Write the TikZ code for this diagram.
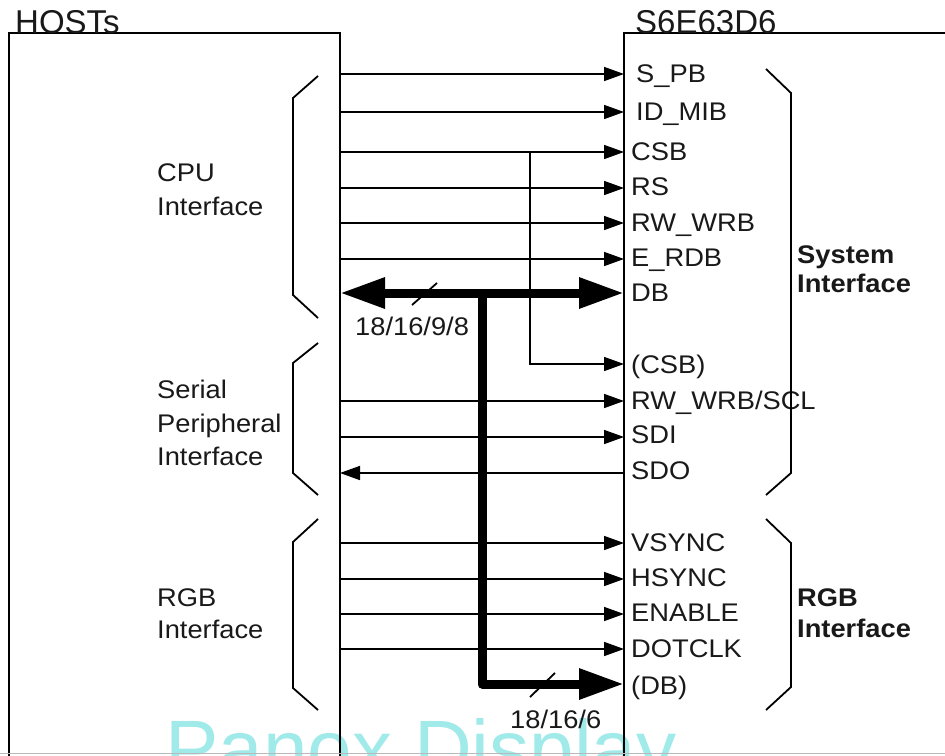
\documentclass[tikz,border=0pt]{standalone}
\usepackage{fontspec}
\setmainfont{Liberation Sans}[FakeStretch=1.07]
\newfontfamily\titlefont{Liberation Sans}
\usetikzlibrary{arrows.meta}
\definecolor{txt}{RGB}{25,25,25}
\definecolor{wm}{RGB}{160,234,234}
\begin{document}
\begin{tikzpicture}[x=1pt,y=-1pt,
  sig/.style={line width=1.6pt,-{Triangle[length=20pt,width=14pt]}},
  sigl/.style={line width=1.6pt,{Triangle[length=20pt,width=14pt]}-},
  edge/.style={line width=1.6pt},
  bus/.style={line width=9pt,line join=round},
  bracket/.style={line width=1.8pt},
  slash/.style={line width=1.8pt},
  lbl/.style={anchor=base west,inner sep=0pt,text=txt,font=\fontsize{25.5}{30}\selectfont},
  blbl/.style={lbl,font=\fontsize{25.5}{30}\selectfont\bfseries},
  ttl/.style={anchor=base west,inner sep=0pt,text=txt,font=\titlefont\fontsize{33}{36}\selectfont},
  wmark/.style={anchor=base west,inner sep=0pt,text=wm,font=\titlefont\fontsize{80}{82}\selectfont}
]
\useasboundingbox (0,0) rectangle (945,755);
\clip (0,0) rectangle (945,755);
\fill[white] (0,0) rectangle (945,755);

% watermark
\node[wmark] (wm) at (165,776) {Panox Display};

% boxes
\draw[edge] (9,770) -- (9,33) -- (340,33) -- (340,770);
\draw[edge] (624,770) -- (624,33) -- (960,33);
\node[ttl] (hosts) at (15,33) {HOSTs};
\node[ttl] (chip) at (635,33) {S6E63D6};

% plain host -> chip signals
\foreach \n/\y in {spb/74,idmib/112,csb/152,rs/188,rw/223,erdb/259,rwscl/401,sdi/437,vs/543,hs/579,en/614,dclk/649}{
  \coordinate (h-\n) at (340,\y);
  \coordinate (c-\n) at (624,\y);
  \draw[sig] (h-\n) -- (c-\n);
}
% SDO chip -> host
\coordinate (h-sdo) at (340,473);
\coordinate (c-sdo) at (624,473);
\draw[sigl] (h-sdo) -- (c-sdo);

% CSB branch
\coordinate (csbj) at (530,152);
\coordinate (csbk) at (530,364);
\coordinate (c-csbb) at (624,364);
\draw[sig] (csbj) -- (csbk) -- (c-csbb);

% data bus
\coordinate (h-db) at (340,293);
\coordinate (c-db) at (624,293);
\coordinate (busj) at (482,293);
\coordinate (busk) at (482,684);
\coordinate (c-dbb) at (624,684);
\draw[bus,{Triangle[length=45pt,width=29pt]}-{Triangle[length=45pt,width=29pt]}] (h-db) -- (c-db);
\draw[bus,-{Triangle[length=45pt,width=29pt]}] (busj) -- (busk) -- (c-dbb);
\draw[slash] (412,305) -- (437,283);
\draw[slash] (530,697) -- (555,673);
\node[lbl] (w1) at (355,335) {18/16/9/8};
\node[lbl] (w2) at (510,728) {18/16/6};

% signal labels
\foreach \n/\x/\b/\t in {spb/636/82/{S\_PB},idmib/636/120/{ID\_MIB},csb/631/160/{CSB},rs/631/195/{RS},
  rw/631/231/{RW\_WRB},erdb/631/266/{E\_RDB},db/631/301/{DB},csbb/631/373/{(CSB)},
  rwscl/631/409/{RW\_WRB/SCL},sdi/631/443/{SDI},sdo/631/479/{SDO},vs/631/551/{VSYNC},
  hs/631/586/{HSYNC},en/631/621/{ENABLE},dclk/631/657/{DOTCLK},dbb/631/694/{(DB)}}{
  \node[lbl] (l-\n) at (\x,\b) {\t};
}

% left brackets
\draw[bracket] (318,76) -- (293,98) -- (293,295) -- (318,318);
\draw[bracket] (318,343) -- (293,363) -- (293,473) -- (318,495);
\draw[bracket] (318,519) -- (293,542) -- (293,688) -- (318,710);
% right brackets
\draw[bracket] (766,69) -- (791,93) -- (791,473) -- (766,495);
\draw[bracket] (766,519) -- (791,543) -- (791,687) -- (766,710);

% left group labels
\node[lbl] (cpu1) at (157,181) {CPU};
\node[lbl] (cpu2) at (157,215) {Interface};
\node[lbl] (spi1) at (157,398) {Serial};
\node[lbl] (spi2) at (157,432) {Peripheral};
\node[lbl] (spi3) at (157,465) {Interface};
\node[lbl] (rgb1) at (157,606) {RGB};
\node[lbl] (rgb2) at (157,638) {Interface};

% right group labels
\node[blbl] (sys1) at (797,263) {System};
\node[blbl] (sys2) at (797,292) {Interface};
\node[blbl] (rgbr1) at (797,606) {RGB};
\node[blbl] (rgbr2) at (797,637) {Interface};

% bottom page edge
\draw[line width=1.5pt,gray!55] (0,753.5) -- (945,753.5);
\end{tikzpicture}
\end{document}
